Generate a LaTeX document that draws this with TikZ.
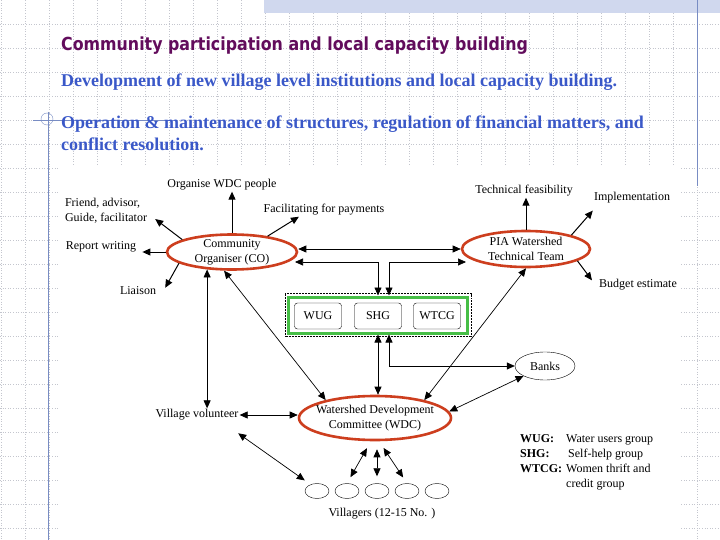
\documentclass[tikz,border=0pt]{standalone}
\usepackage{fontspec}
\setmainfont{Liberation Serif}
\newfontfamily\titlefont[FakeStretch=0.88]{DejaVu Sans}
\usetikzlibrary{arrows.meta, positioning, shapes.geometric, calc}
\definecolor{titlepurple}{RGB}{98,12,92}
\definecolor{headblue}{RGB}{58,88,200}
\definecolor{ellred}{RGB}{205,62,30}
\definecolor{boxgreen}{RGB}{70,190,70}
\definecolor{gridgray}{RGB}{196,198,206}
\definecolor{bandblue}{RGB}{208,216,238}
\definecolor{rulemark}{RGB}{120,140,195}

\begin{document}
\begin{tikzpicture}[x=1pt, y=1pt,
    gridline/.style={gridgray, dotted, line width=0.6pt},
    heading/.style={font=\bfseries\fontsize{18}{20}\selectfont, text=headblue, inner sep=0pt, anchor=base west},
    lbl/.style={font=\fontsize{12}{15}\selectfont, inner sep=1pt},
    redell/.style={ellipse, draw=ellred, line width=2.6pt, inner sep=0pt},
    grpitem/.style={draw, rounded corners=3pt, minimum width=47pt, minimum height=26pt, font=\fontsize{12}{14}\selectfont},
    villager/.style={ellipse, draw, minimum width=24pt, minimum height=15pt, inner sep=0pt},
    arr/.style={line width=1pt, -{Triangle[length=8pt,width=7pt]}},
    darr/.style={line width=0.7pt, {Triangle[length=8pt,width=7pt]}-{Triangle[length=8pt,width=7pt]}},
    vshort/.style={shorten <=8pt, shorten >=7pt}]
    \useasboundingbox (0,0) rectangle (720,-540);

    % Slide background
    \foreach \gx in {1,25,...,697} \draw[gridline] (\gx,0) -- (\gx,-540);
    \foreach \gy in {24,48,...,528} \draw[gridline] (0,-\gy) -- (720,-\gy);
    \fill[bandblue] (264,0) rectangle (720,-13);
    \draw[rulemark] (697,0) -- (697,-186);
    \draw[rulemark] (33,-120) -- (172,-120);
    \draw[rulemark] (48,-112) -- (48,-540);
    \draw[rulemark] (47,-119) circle (6);

    % Headings
    \node[anchor=base west, inner sep=0pt, text=titlepurple, font=\titlefont\bfseries\fontsize{18}{20}\selectfont] (title) at (61,-51) {Community participation and local capacity building};
    \node[heading] (point1) at (61,-87) {Development of new village level institutions and local capacity building.};
    \node[heading] (point2) at (61,-129) {Operation \& maintenance of structures, regulation of financial matters, and};
    \node[heading] (point3) at (61,-151) {conflict resolution.};

    % Diagram area
    \fill[white] (60,-166) rectangle (681,-540);

    % Main bodies
    \node[redell, minimum width=130pt, minimum height=35pt, label={[lbl, align=center]center:Community\\Organiser (CO)}] (co) at (232,-252) {};
    \node[redell, minimum width=128pt, minimum height=36pt, label={[lbl, align=center]center:PIA Watershed\\Technical Team}] (pia) at (526,-249) {};
    \node[redell, minimum width=152pt, minimum height=44pt, label={[lbl, align=center]center:Watershed Development\\Committee (WDC)}] (wdc) at (375,-418) {};
    \node[ellipse, draw, minimum width=60pt, minimum height=28pt, lbl] (banks) at (545,-366) {Banks};

    % Groups
    \node[draw=boxgreen, line width=3pt, minimum width=179pt, minimum height=36pt] (grpbox) at (378,-315) {};
    \draw[densely dotted, line width=0.5pt] ([shift={(-2pt,2pt)}]grpbox.north west) rectangle ([shift={(2pt,-2pt)}]grpbox.south east);
    \node[grpitem] (wug) at (318,-316) {WUG};
    \node[grpitem] (shg) at (378,-316) {SHG};
    \node[grpitem] (wtcg) at (437,-316) {WTCG};

    % Tasks
    \node[lbl] (organise) at (222,-185) {Organise WDC people};
    \node[lbl, align=left] (friend) at (106,-211) {Friend, advisor,\\Guide, facilitator};
    \node[lbl] (facil) at (324,-210) {Facilitating for payments};
    \node[lbl] (report) at (101,-247) {Report writing};
    \node[lbl] (liaison) at (138,-291) {Liaison};
    \node[lbl] (techfeas) at (524,-191) {Technical feasibility};
    \node[lbl] (implement) at (632,-198) {Implementation};
    \node[lbl] (budget) at (638,-285) {Budget estimate};
    \node[lbl] (volunteer) at (197,-415) {Village volunteer};

    % Villagers
    \foreach \i/\vx in {1/317,2/347,3/377,4/407,5/437}
        \node[villager] (v\i) at (\vx,-491) {};
    \node[lbl] (villagers) at (382,-514) {Villagers (12-15 No. )};

    % Legend
    \node[lbl, anchor=north west] (legend) at (519,-431) {\begin{tabular}{@{}l@{\hspace{4pt}}l@{}}
        \textbf{WUG:} & Water users group\\
        \textbf{SHG:} & \hspace{2pt}Self-help group\\
        \textbf{WTCG:} & Women thrift and\\
         & credit group
    \end{tabular}};

    % Connectors
    \draw[arr] (co.north) -- (co.north |- organise.south);
    \draw[arr] (co.166) -- ([shift={(7pt,-8pt)}]friend.east);
    \draw[arr] (co.24) -- (facil.-165);
    \draw[arr] (co.west) -- ([xshift=5pt]co.west -| report.east);
    \draw[arr] (co.192) -- ([shift={(8pt,-2pt)}]liaison.north east);
    \draw[arr] (pia.north) -- (pia.north |- techfeas.south);
    \draw[arr] (pia.17) -- ([yshift=-6pt]implement.south west);
    \draw[arr] (pia.-13) -- ([shift={(-6pt,-2pt)}]budget.north west);
    \draw[darr] ([yshift=3pt]co.east) -- (pia.west);
    \coordinate (coR) at (295,-262);
    \coordinate (piaL) at (466,-262);
    \draw[darr] (coR) -| (grpbox.north);
    \draw[darr] (piaL) -| ([xshift=11pt]grpbox.north);
    \draw[darr] (co.215) -- (co.215 |- volunteer.north);
    \draw[darr] (co.247) -- (wdc.160);
    \draw[darr] (grpbox.south) -- (grpbox.south |- wdc.north);
    \draw[darr] ([xshift=11pt]grpbox.south) |- (banks.west);
    \draw[darr] (pia.south) -- (wdc.20);
    \draw[darr] (banks.205) -- (wdc.5);
    \draw[darr] (volunteer.east) -- (volunteer.east -| wdc.west);
    \draw[darr, vshort] ([shift={(-8pt,-7pt)}]volunteer.south east) -- (v1.135);
    \draw[darr, vshort] (wdc.-100) -- (v2.north);
    \draw[darr, vshort] (wdc.south -| v3.north) -- (v3.north);
    \draw[darr, vshort] (wdc.-80) -- (v4.north);
\end{tikzpicture}
\end{document}
